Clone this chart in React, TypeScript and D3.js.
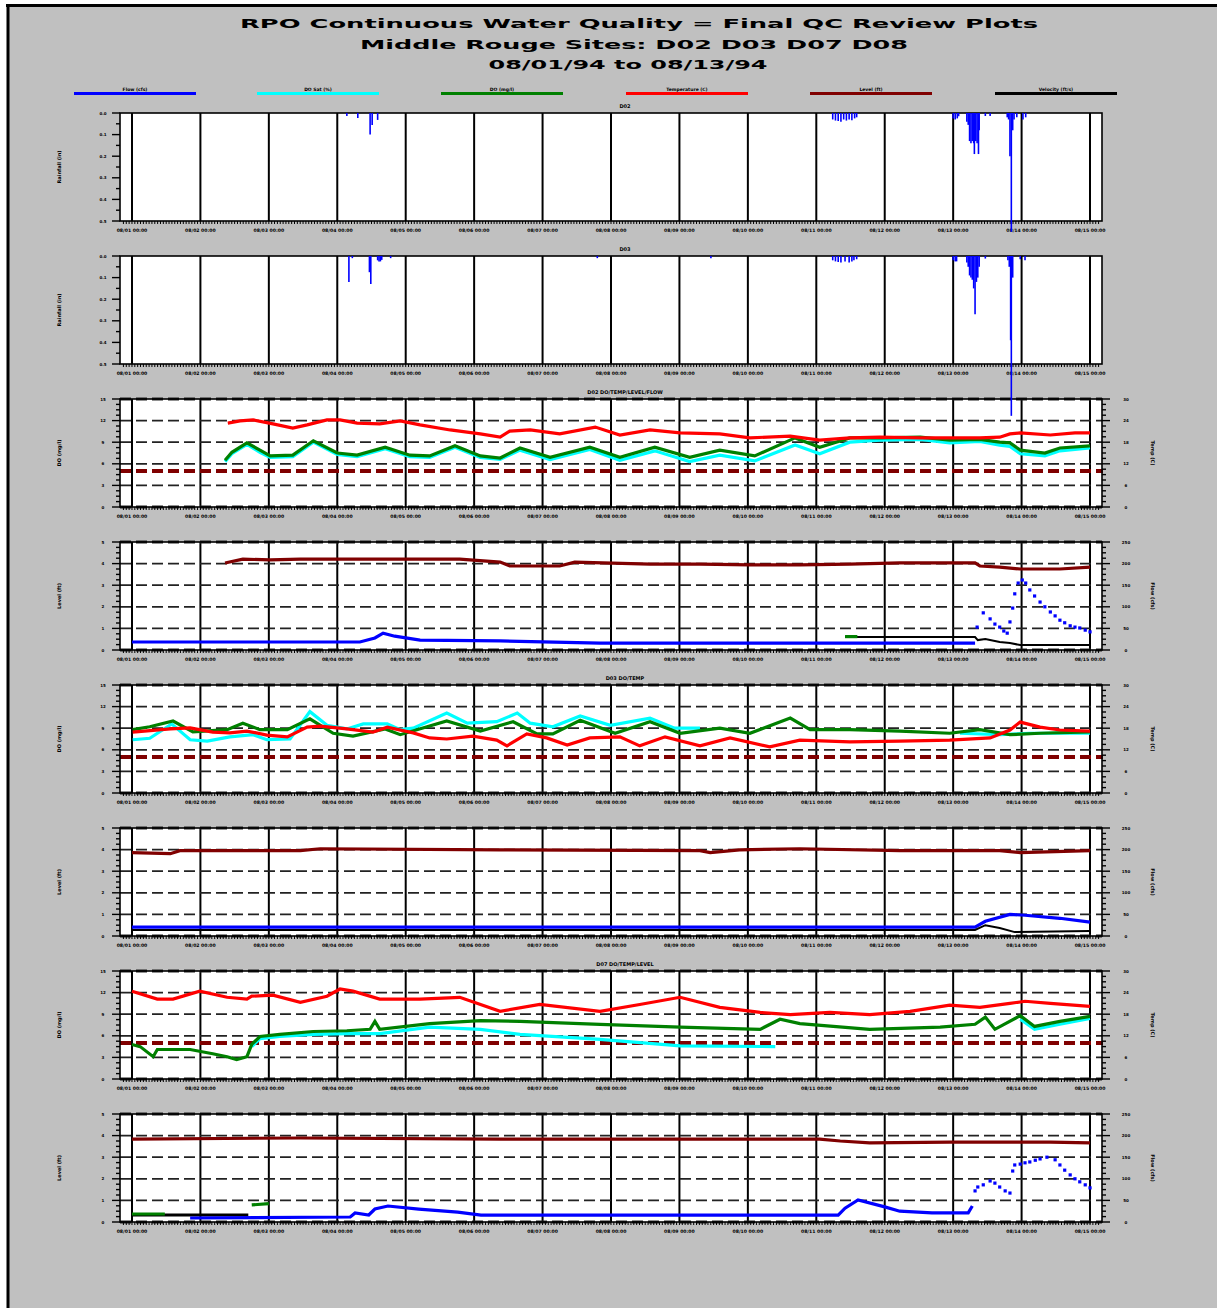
import React from "react";
import * as d3 from "d3";

type Pt = [number, number];

// ---------- text ----------
const titleLines = [
  "RPO Continuous Water Quality = Final QC Review Plots",
  "Middle Rouge Sites: D02 D03 D07 D08",
  "08/01/94 to 08/13/94",
];
const legendLabels = ["Flow (cfs)", "DO Sat (%)", "DO (mg/l)", "Temperature (C)", "Level (ft)", "Velocity (ft/s)"];
const tickLabels = [
  "08/01 00:00", "08/02 00:00", "08/03 00:00", "08/04 00:00", "08/05 00:00",
  "08/06 00:00", "08/07 00:00", "08/08 00:00", "08/09 00:00", "08/10 00:00",
  "08/11 00:00", "08/12 00:00", "08/13 00:00", "08/14 00:00", "08/15 00:00",
];
const gridDays = [0, 1, 2, 3, 4, 5, 6, 7, 8, 9, 10, 11, 12, 13, 14];

// ---------- data (t = grid interval index, value in axis units) ----------
const rainD02: Pt[] = [
  [3.14, 0.014], [3.3, 0.023], [3.48, 0.1], [3.51, 0.055], [3.59, 0.032],
  [10.24, 0.03], [10.28, 0.035], [10.32, 0.037], [10.36, 0.04], [10.4, 0.03], [10.44, 0.035], [10.48, 0.03], [10.52, 0.034], [10.56, 0.025], [10.59, 0.02],
  [12.0, 0.025], [12.03, 0.03], [12.06, 0.025], [12.08, 0.015],
  [12.2, 0.04], [12.22, 0.055], [12.24, 0.13], [12.26, 0.14], [12.28, 0.13], [12.3, 0.14], [12.31, 0.19], [12.33, 0.13], [12.35, 0.14], [12.37, 0.19], [12.38, 0.08],
  [12.47, 0.014], [12.54, 0.014],
  [12.79, 0.02], [12.81, 0.03], [12.83, 0.2], [12.85, 0.55], [12.87, 0.08], [12.89, 0.03],
  [12.93, 0.02], [13.02, 0.03], [13.06, 0.02],
];
const rainD03: Pt[] = [
  [3.17, 0.12], [3.22, 0.01], [3.47, 0.075], [3.49, 0.13], [3.59, 0.02], [3.61, 0.025], [3.63, 0.025], [3.65, 0.018], [3.78, 0.01],
  [6.8, 0.01], [8.46, 0.01],
  [10.24, 0.02], [10.28, 0.025], [10.32, 0.028], [10.36, 0.03], [10.42, 0.025], [10.48, 0.03], [10.52, 0.025], [10.55, 0.02], [10.59, 0.015],
  [12.0, 0.02], [12.03, 0.025], [12.05, 0.025],
  [12.2, 0.03], [12.22, 0.05], [12.24, 0.09], [12.26, 0.1], [12.28, 0.11], [12.3, 0.15], [12.32, 0.27], [12.34, 0.12], [12.36, 0.1], [12.38, 0.05],
  [12.47, 0.012],
  [12.8, 0.02], [12.82, 0.05], [12.84, 0.39], [12.85, 0.74], [12.87, 0.1],
  [12.98, 0.015], [13.05, 0.02],
];

// D02 water quality
const tempD02: Pt[] = [
  [1.4, 23.3], [1.58, 23.9], [1.77, 24.2], [2.06, 23.1], [2.35, 21.9], [2.56, 22.8], [2.85, 24.2], [3.04, 24.2], [3.29, 23.3],
  [3.62, 23.1], [3.92, 23.9], [4.21, 22.8], [4.65, 21.4], [5.09, 20.3], [5.38, 19.4], [5.52, 21.1], [5.82, 21.4], [6.25, 20.3],
  [6.77, 22.2], [7.13, 20.0], [7.57, 21.4], [8.01, 20.6], [8.59, 20.3], [9.03, 19.2], [9.62, 19.7], [10.05, 18.6], [10.49, 19.2],
  [10.93, 19.4], [11.52, 19.2], [11.95, 19.2], [12.39, 19.2], [12.68, 19.4], [12.83, 20.3], [12.98, 20.6], [13.42, 20.0], [13.78, 20.6], [14.0, 20.6],
];
const doD02: Pt[] = [
  [1.36, 6.5], [1.46, 7.6], [1.68, 8.9], [1.87, 7.9], [2.02, 7.1], [2.35, 7.2], [2.65, 9.2], [3.0, 7.5], [3.29, 7.2], [3.7, 8.3],
  [4.06, 7.2], [4.35, 7.1], [4.72, 8.5], [5.09, 7.1], [5.38, 6.8], [5.67, 8.2], [6.11, 6.9], [6.69, 8.3], [7.13, 6.9], [7.64, 8.3],
  [8.15, 6.9], [8.59, 7.9], [9.1, 7.1], [9.69, 9.6], [10.05, 8.3], [10.49, 9.6], [10.93, 9.6], [11.52, 9.7], [11.95, 9.3], [12.39, 9.4],
  [12.68, 9.0], [12.83, 8.9], [12.98, 7.9], [13.34, 7.5], [13.56, 8.2], [14.0, 8.5],
];
const doSatD02: Pt[] = [
  [1.36, 6.3], [1.46, 7.4], [1.68, 8.7], [1.87, 7.6], [2.02, 6.9], [2.35, 7.0], [2.65, 9.0], [3.0, 7.3], [3.29, 7.0], [3.7, 8.1],
  [4.06, 7.0], [4.35, 6.9], [4.72, 8.3], [5.09, 6.9], [5.38, 6.6], [5.67, 7.9], [6.11, 6.6], [6.69, 8.0], [7.13, 6.5], [7.64, 7.8],
  [8.15, 6.3], [8.59, 7.2], [9.1, 6.4], [9.69, 8.6], [10.05, 7.4], [10.49, 9.0], [10.93, 9.3], [11.52, 9.4], [11.95, 8.9], [12.39, 9.1],
  [12.68, 8.6], [12.83, 8.4], [12.98, 7.4], [13.34, 7.1], [13.56, 7.8], [14.0, 8.2],
];
const levelD02: Pt[] = [
  [1.36, 4.03], [1.62, 4.21], [2.02, 4.17], [2.46, 4.21], [3.19, 4.21], [3.92, 4.21], [4.79, 4.21], [5.38, 4.07], [5.52, 3.89],
  [6.25, 3.89], [6.47, 4.07], [7.57, 3.98], [8.3, 3.98], [9.03, 3.94], [9.76, 3.94], [10.49, 3.98], [11.22, 4.03], [12.32, 4.03],
  [12.39, 3.89], [12.68, 3.84], [12.98, 3.75], [13.56, 3.75], [14.0, 3.84],
];
const flowD02: Pt[] = [
  [0.0, 18.5], [3.33, 18.5], [3.55, 27.8], [3.67, 39], [3.84, 32], [4.21, 23], [5.38, 21], [6.84, 16], [10.35, 16], [11.22, 16], [12.32, 16],
];
const flowD02Storm: Pt[] = [
  [12.35, 53], [12.44, 86], [12.54, 72], [12.61, 60], [12.68, 53], [12.74, 44], [12.79, 39], [12.83, 65], [12.87, 97], [12.9, 130],
  [12.95, 155], [13.01, 162], [13.06, 155], [13.12, 139], [13.19, 125], [13.27, 111], [13.34, 100], [13.42, 88], [13.49, 79],
  [13.56, 69], [13.63, 63], [13.71, 56], [13.78, 53], [13.85, 51], [13.93, 46], [14.0, 42],
];
const velD02: Pt[] = [
  [10.42, 0.6], [12.32, 0.6], [12.36, 0.46], [12.47, 0.51], [12.68, 0.37], [12.83, 0.32], [12.98, 0.23], [14.0, 0.23],
];
const satLevelD02: Pt[] = [[10.42, 0.62], [10.6, 0.62]];

// D03 water quality
const doSatD03: Pt[] = [
  [0.01, 7.4], [0.26, 7.6], [0.58, 9.6], [0.85, 7.4], [1.1, 7.2], [1.43, 7.8], [1.77, 8.1], [1.97, 7.4], [2.31, 7.5], [2.6, 11.3],
  [2.85, 9.4], [3.14, 8.9], [3.38, 9.6], [3.73, 9.6], [3.92, 8.8], [4.11, 9.0], [4.6, 11.1], [4.9, 9.7], [5.33, 9.9], [5.63, 11.1],
  [5.82, 9.7], [6.15, 9.2], [6.55, 10.7], [6.99, 9.4], [7.57, 10.4], [7.93, 9.0], [8.3, 9.0],
];
const doSatD03b: Pt[] = [[12.1, 8.3], [12.68, 8.1], [13.12, 8.3], [14.0, 8.3]];
const doD03: Pt[] = [
  [0.01, 8.8], [0.26, 9.2], [0.6, 10.0], [0.89, 8.5], [1.39, 8.8], [1.62, 9.7], [1.87, 8.8], [2.27, 8.8], [2.6, 10.3], [2.94, 8.3],
  [3.23, 7.9], [3.7, 8.9], [3.92, 8.1], [4.6, 10.0], [5.09, 8.6], [5.57, 9.9], [5.92, 8.2], [6.15, 8.2], [6.55, 10.1], [7.06, 8.3],
  [7.57, 9.9], [8.01, 8.3], [8.59, 9.0], [9.03, 8.3], [9.62, 10.4], [9.91, 8.8], [10.49, 8.8], [11.22, 8.6], [11.95, 8.3],
  [12.39, 8.8], [12.83, 8.1], [13.27, 8.3], [14.0, 8.5],
];
const tempD03: Pt[] = [
  [0.01, 16.9], [0.56, 17.8], [0.85, 18.1], [1.18, 16.9], [1.43, 16.7], [1.68, 17.2], [1.97, 16.1], [2.27, 15.6], [2.56, 18.3],
  [2.75, 18.6], [3.14, 17.8], [3.52, 16.9], [3.73, 18.3], [4.11, 16.7], [4.35, 15.3], [4.6, 15.0], [4.98, 15.8], [5.33, 14.7],
  [5.48, 13.1], [5.77, 16.4], [6.06, 15.3], [6.36, 13.3], [6.69, 15.3], [7.13, 15.6], [7.42, 13.1], [7.79, 15.6], [8.3, 13.1],
  [8.74, 15.3], [9.32, 12.8], [9.76, 14.7], [10.49, 14.2], [11.22, 14.4], [11.95, 14.7], [12.54, 15.3], [12.83, 17.5],
  [12.98, 19.7], [13.27, 18.3], [13.56, 17.5], [14.0, 17.2],
];
const levelD03: Pt[] = [
  [0.0, 3.86], [0.56, 3.81], [0.7, 3.95], [2.46, 3.95], [2.75, 4.04], [5.38, 3.99], [8.3, 3.95], [8.45, 3.86], [8.88, 3.99],
  [9.76, 4.04], [11.22, 3.95], [12.68, 3.95], [12.98, 3.86], [14.0, 3.95],
];
const flowD03: Pt[] = [
  [0.0, 20.6], [5.38, 20.6], [12.32, 20.6], [12.47, 34], [12.83, 50], [13.05, 48], [13.56, 41], [14.0, 32],
];
const velD03: Pt[] = [
  [0.0, 0.28], [12.32, 0.28], [12.47, 0.5], [12.68, 0.37], [12.9, 0.18], [14.0, 0.23],
];

// D07 water quality
const tempD07: Pt[] = [
  [0.0, 24.4], [0.37, 22.2], [0.6, 22.2], [0.99, 24.4], [1.39, 22.7], [1.68, 22.2], [1.75, 23.0], [2.06, 23.3], [2.46, 21.3],
  [2.85, 23.0], [3.04, 25.0], [3.23, 24.4], [3.62, 22.2], [4.21, 22.2], [4.79, 22.7], [5.38, 18.8], [5.96, 20.7], [6.84, 18.8],
  [7.42, 20.7], [8.01, 22.7], [8.59, 19.9], [9.18, 18.5], [9.62, 17.9], [10.2, 18.5], [10.78, 17.9], [11.37, 18.8], [11.95, 20.5],
  [12.39, 19.9], [12.83, 21.0], [13.05, 21.6], [13.42, 21.0], [14.0, 20.2],
];
const doD07: Pt[] = [
  [0.0, 4.8], [0.12, 4.5], [0.31, 3.1], [0.37, 4.1], [0.6, 4.1], [0.85, 4.1], [1.18, 3.5], [1.39, 3.1], [1.53, 2.7], [1.68, 3.1],
  [1.75, 4.8], [1.87, 5.9], [2.16, 6.2], [2.65, 6.6], [3.14, 6.7], [3.48, 6.9], [3.55, 8.0], [3.62, 6.9], [4.35, 7.7], [5.09, 8.1],
  [5.67, 8.0], [6.84, 7.6], [8.01, 7.2], [9.18, 6.9], [9.47, 8.3], [9.76, 7.7], [10.78, 6.9], [11.81, 7.2], [12.32, 7.6],
  [12.47, 8.6], [12.61, 6.9], [12.98, 8.8], [13.19, 7.3], [13.56, 8.0], [14.0, 8.7],
];
const doSatD07: Pt[] = [
  [1.75, 4.5], [1.87, 5.6], [2.16, 5.9], [2.65, 6.2], [3.14, 6.3], [3.62, 6.3], [4.35, 7.2], [5.09, 6.9], [5.67, 6.2],
  [6.84, 5.5], [8.01, 4.6], [9.4, 4.5],
];
const doSatD07b: Pt[] = [[12.98, 8.3], [13.19, 6.9], [13.56, 7.6], [14.0, 8.4]];
const levelD07: Pt[] = [
  [0.0, 3.84], [2.46, 3.89], [5.38, 3.84], [8.3, 3.84], [10.05, 3.84], [10.35, 3.75], [10.78, 3.66], [11.95, 3.7], [13.42, 3.7], [14.0, 3.66],
];
const flowD07: Pt[] = [
  [0.85, 9.3], [3.19, 11.6], [3.26, 20.8], [3.46, 16.2], [3.55, 30], [3.74, 37], [4.19, 30], [4.76, 23], [5.1, 16], [6.81, 16],
  [10.32, 16], [10.42, 32], [10.61, 51], [11.0, 35], [11.22, 25], [11.69, 21], [12.22, 21], [12.28, 37],
];
const flowD07Storm: Pt[] = [
  [12.32, 72], [12.36, 81], [12.44, 86], [12.54, 95], [12.61, 90], [12.68, 81], [12.76, 72], [12.83, 67],
  [12.87, 118], [12.9, 132], [12.98, 134], [13.05, 137], [13.12, 139], [13.2, 143], [13.27, 146], [13.37, 150], [13.49, 144],
  [13.56, 132], [13.63, 120], [13.71, 109], [13.78, 100], [13.85, 93], [13.93, 86], [14.0, 79],
];
const velD07: Pt[] = [[0.0, 0.32], [1.7, 0.32]];
const satLevelD07a: Pt[] = [[0.0, 0.37], [0.48, 0.37]];
const satLevelD07b: Pt[] = [[1.75, 0.79], [2.0, 0.85]];

// ---------- layout / style ----------
const W = 1217;
const H = 1308;
const X0 = 120;
const X1 = 1102;
const PANEL_TOPS = [113, 256, 399, 542, 685, 828, 971, 1114];
const PANEL_H = 108;
const FONT = "'DejaVu Sans', sans-serif";
const C = {
  blue: "#0000ff",
  cyan: "#00ffff",
  green: "#008000",
  red: "#ff0000",
  dred: "#800000",
  black: "#000000",
};
const legendColors = [C.blue, C.cyan, C.green, C.red, C.dred, C.black];
const legendX = [74, 257, 441, 626, 810, 995];

const x = d3.scaleLinear().domain([-0.175, 14.175]).range([X0, X1]);

type Series = { data: Pt[]; color: string; axis: "L" | "R"; dots?: boolean; width?: number };
type Axis = { domain: [number, number]; step: number; label: string; fmt: (v: number) => string };
type PanelCfg = {
  title?: string;
  rain?: Pt[];
  left: Axis;
  right?: Axis;
  grid: boolean;
  threshold?: number;
  series: Series[];
};

const rainAxis = (label: string): Axis => ({ domain: [0, 0.5], step: 0.1, label, fmt: (v) => v.toFixed(1) });
const doAxis: Axis = { domain: [0, 15], step: 3, label: "DO (mg/l)", fmt: (v) => String(v) };
const tempAxis: Axis = { domain: [0, 30], step: 6, label: "Temp (C)", fmt: (v) => String(v) };
const levelAxis: Axis = { domain: [0, 5], step: 1, label: "Level (ft)", fmt: (v) => String(v) };
const flowAxis: Axis = { domain: [0, 250], step: 50, label: "Flow (cfs)", fmt: (v) => String(v) };

const panels: PanelCfg[] = [
  { title: "D02", rain: rainD02, left: rainAxis("Rainfall (in)"), grid: false, series: [] },
  { title: "D03", rain: rainD03, left: rainAxis("Rainfall (in)"), grid: false, series: [] },
  {
    title: "D02 DO/TEMP/LEVEL/FLOW", left: doAxis, right: tempAxis, grid: true, threshold: 5,
    series: [
      { data: doSatD02, color: C.cyan, axis: "L" },
      { data: doD02, color: C.green, axis: "L" },
      { data: tempD02, color: C.red, axis: "R" },
    ],
  },
  {
    left: levelAxis, right: flowAxis, grid: true,
    series: [
      { data: levelD02, color: C.dred, axis: "L" },
      { data: flowD02, color: C.blue, axis: "R" },
      { data: flowD02Storm, color: C.blue, axis: "R", dots: true },
      { data: velD02, color: C.black, axis: "L", width: 2 },
      { data: satLevelD02, color: C.green, axis: "L" },
    ],
  },
  {
    title: "D03 DO/TEMP", left: doAxis, right: tempAxis, grid: true, threshold: 5,
    series: [
      { data: doSatD03, color: C.cyan, axis: "L" },
      { data: doSatD03b, color: C.cyan, axis: "L" },
      { data: doD03, color: C.green, axis: "L" },
      { data: tempD03, color: C.red, axis: "R" },
    ],
  },
  {
    left: levelAxis, right: flowAxis, grid: true,
    series: [
      { data: levelD03, color: C.dred, axis: "L" },
      { data: flowD03, color: C.blue, axis: "R" },
      { data: velD03, color: C.black, axis: "L", width: 2 },
    ],
  },
  {
    title: "D07 DO/TEMP/LEVEL", left: doAxis, right: tempAxis, grid: true, threshold: 5,
    series: [
      { data: doSatD07, color: C.cyan, axis: "L" },
      { data: doSatD07b, color: C.cyan, axis: "L" },
      { data: doD07, color: C.green, axis: "L" },
      { data: tempD07, color: C.red, axis: "R" },
    ],
  },
  {
    left: levelAxis, right: flowAxis, grid: true,
    series: [
      { data: levelD07, color: C.dred, axis: "L" },
      { data: velD07, color: C.black, axis: "L", width: 3 },
      { data: satLevelD07a, color: C.green, axis: "L" },
      { data: satLevelD07b, color: C.green, axis: "L" },
      { data: flowD07, color: C.blue, axis: "R" },
      { data: flowD07Storm, color: C.blue, axis: "R", dots: true },
    ],
  },
];

const hourTicks = d3.range(-4, 14 * 24 + 5).map((h) => h / 24).filter((t) => x(t) > X0 + 1 && x(t) < X1 - 1);

function leftScale(cfg: PanelCfg, top: number) {
  const bottom = top + PANEL_H;
  return d3.scaleLinear().domain(cfg.left.domain).range(cfg.rain ? [top, bottom] : [bottom, top]);
}

// rain bars drawn on top of everything (the long spikes run past their own panel)
function RainLayer({ cfg, top }: { cfg: PanelCfg; top: number }) {
  if (!cfg.rain) return null;
  const yL = leftScale(cfg, top);
  return (
    <g>
      {cfg.rain.map((d, i) => (
        <line key={"r" + i} x1={x(d[0])} x2={x(d[0])} y1={yL(0)} y2={yL(d[1])} stroke={C.blue} strokeWidth={1.6} />
      ))}
    </g>
  );
}

function Panel({ cfg, top }: { cfg: PanelCfg; top: number }) {
  const bottom = top + PANEL_H;
  const yL = leftScale(cfg, top);
  const yR = cfg.right ? d3.scaleLinear().domain(cfg.right.domain).range([bottom, top]) : null;
  const lTicks = d3.range(cfg.left.domain[0], cfg.left.domain[1] + 1e-9, cfg.left.step);
  const nMinor = cfg.rain ? 2 : 4;
  const lMinor = d3.range(0, (lTicks.length - 1) * nMinor + 1).map((i) => cfg.left.domain[0] + (i * cfg.left.step) / nMinor);
  const rTicks = cfg.right ? d3.range(cfg.right.domain[0], cfg.right.domain[1] + 1e-9, cfg.right.step) : [];
  const rMinor = cfg.right
    ? d3.range(0, (rTicks.length - 1) * nMinor + 1).map((i) => cfg.right!.domain[0] + (i * cfg.right!.step) / nMinor)
    : [];
  const mid = (top + bottom) / 2;

  return (
    <g>
      <rect x={X0} y={top} width={X1 - X0} height={PANEL_H} fill="#ffffff" />
      {gridDays.map((d) => (
        <line key={"v" + d} x1={x(d)} x2={x(d)} y1={top} y2={bottom} stroke="#000" strokeWidth={2} />
      ))}
      {cfg.grid &&
        lTicks.map((v, i) => (
          <line
            key={"g" + i}
            x1={X0}
            x2={X1}
            y1={yL(v)}
            y2={yL(v)}
            stroke="#222"
            strokeWidth={i === 0 || i === lTicks.length - 1 ? 3 : 1.8}
            strokeDasharray="11,5"
          />
        ))}
      {cfg.threshold !== undefined && (
        <line
          x1={X0}
          x2={X1 + 1}
          y1={yL(cfg.threshold)}
          y2={yL(cfg.threshold)}
          stroke={C.dred}
          strokeWidth={4}
          strokeDasharray="11,5"
        />
      )}
      {cfg.series.map((s, i) => {
        const y = s.axis === "L" ? yL : yR!;
        if (s.dots) {
          return (
            <g key={"s" + i}>
              {s.data.map((d, j) => (
                <rect key={j} x={x(d[0]) - 1.6} y={y(d[1]) - 1.6} width={3.2} height={3.2} fill={s.color} />
              ))}
            </g>
          );
        }
        const line = d3.line<Pt>().x((d) => x(d[0])).y((d) => y(d[1]));
        return (
          <path
            key={"s" + i}
            d={line(s.data) || ""}
            fill="none"
            stroke={s.color}
            strokeWidth={s.width ?? 3.2}
            strokeLinejoin="miter"
          />
        );
      })}
      <rect x={X0} y={top} width={X1 - X0} height={PANEL_H} fill="none" stroke="#000" strokeWidth={1.6} />
      {/* left axis */}
      {lMinor.map((v, i) => (
        <line key={"lm" + i} x1={i % nMinor === 0 ? X0 - 8 : X0 - 4} x2={X0} y1={yL(v)} y2={yL(v)} stroke="#000" strokeWidth={1.4} />
      ))}
      {lTicks.map((v, i) => (
        <text key={"lt" + i} x={103} y={yL(v) + 1.5} fontSize={4} fontFamily={FONT} fontWeight="bold" textAnchor="middle">
          {cfg.left.fmt(v)}
        </text>
      ))}
      <text
        transform={`translate(61,${mid}) rotate(-90)`}
        fontSize={5}
        fontFamily={FONT}
        fontWeight="bold"
        textAnchor="middle"
      >
        {cfg.left.label}
      </text>
      {/* right axis */}
      {yR && (
        <g>
          {rMinor.map((v, i) => (
            <line key={"rm" + i} x1={X1} x2={i % nMinor === 0 ? X1 + 8 : X1 + 4} y1={yR(v)} y2={yR(v)} stroke="#000" strokeWidth={1.4} />
          ))}
          {rTicks.map((v, i) => (
            <text key={"rt" + i} x={1126} y={yR(v) + 1.5} fontSize={4} fontFamily={FONT} fontWeight="bold" textAnchor="middle">
              {cfg.right!.fmt(v)}
            </text>
          ))}
          <text
            transform={`translate(1151,${mid}) rotate(90)`}
            fontSize={5}
            fontFamily={FONT}
            fontWeight="bold"
            textAnchor="middle"
          >
            {cfg.right!.label}
          </text>
        </g>
      )}
      {/* bottom ticks */}
      {hourTicks.map((t, i) => (
        <line key={"h" + i} x1={x(t)} x2={x(t)} y1={bottom} y2={bottom + 3} stroke="#000" strokeWidth={1} />
      ))}
      {gridDays.map((d, i) => (
        <text key={"xl" + i} x={x(d)} y={bottom + 10.5} fontSize={4.6} fontFamily={FONT} fontWeight="bold" textAnchor="middle">
          {tickLabels[i]}
        </text>
      ))}
      {cfg.title && (
        <text x={625} y={top - 5} fontSize={5} fontFamily={FONT} fontWeight="bold" textAnchor="middle">
          {cfg.title}
        </text>
      )}
    </g>
  );
}

export default function App() {
  return (
    <svg
      width={W}
      height={H}
      viewBox={`0 0 ${W} ${H}`}
      style={{ position: "absolute", left: 0, top: 0, display: "block" }}
    >
      <rect x={0} y={0} width={W} height={H} fill="#ffffff" />
      <rect x={7} y={5} width={W - 7} height={H - 5} fill="#c0c0c0" />
      <line x1={6} x2={W} y1={5.5} y2={5.5} stroke="#000" strokeWidth={3} />
      <line x1={8} x2={8} y1={5} y2={H} stroke="#000" strokeWidth={3} />
      {/* titles */}
      <text x={639} y={28} fontSize={12} fontFamily={FONT} fontWeight="bold" textAnchor="middle" textLength={798} lengthAdjust="spacingAndGlyphs">
        {titleLines[0]}
      </text>
      <text x={634} y={49} fontSize={12} fontFamily={FONT} fontWeight="bold" textAnchor="middle" textLength={548} lengthAdjust="spacingAndGlyphs">
        {titleLines[1]}
      </text>
      <text x={628} y={69} fontSize={12} fontFamily={FONT} fontWeight="bold" textAnchor="middle" textLength={279} lengthAdjust="spacingAndGlyphs">
        {titleLines[2]}
      </text>
      {/* legend */}
      {legendLabels.map((lab, i) => (
        <g key={"lg" + i}>
          <line x1={legendX[i]} x2={legendX[i] + 122} y1={93.5} y2={93.5} stroke={legendColors[i]} strokeWidth={3} />
          <text x={legendX[i] + 61} y={91} fontSize={4.5} fontFamily={FONT} fontWeight="bold" textAnchor="middle">
            {lab}
          </text>
        </g>
      ))}
      {panels.map((p, i) => (
        <Panel key={i} cfg={p} top={PANEL_TOPS[i]} />
      ))}
      {panels.map((p, i) => (
        <RainLayer key={"rl" + i} cfg={p} top={PANEL_TOPS[i]} />
      ))}
    </svg>
  );
}
